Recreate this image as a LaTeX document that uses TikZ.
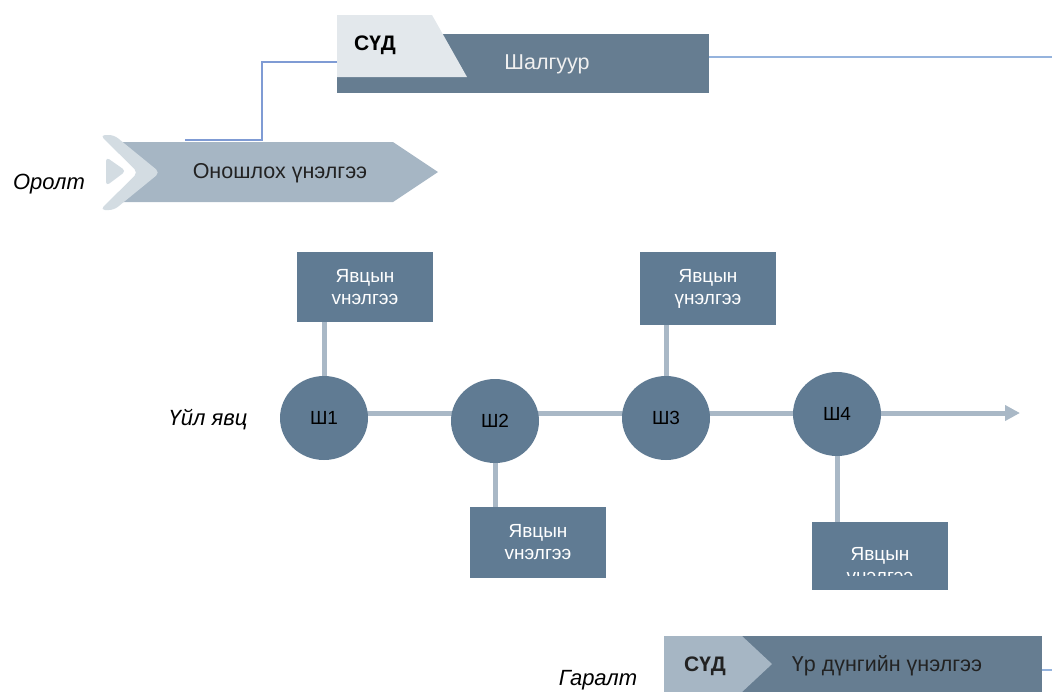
\documentclass[tikz,border=0pt]{standalone}
\usepackage{fontspec}
\setmainfont{Liberation Sans}
\usetikzlibrary{shapes.geometric,arrows.meta}
\definecolor{darkbox}{HTML}{607B93}
\definecolor{critbox}{HTML}{667D91}
\definecolor{lightarrow}{HTML}{A6B6C4}
\definecolor{lighttrap}{HTML}{E3E8EC}
\definecolor{chev}{HTML}{D3DCE2}
\definecolor{conn}{HTML}{A9B8C6}
\definecolor{thinblue}{HTML}{7F9BD4}
\definecolor{thinblue2}{HTML}{95B3DD}
\definecolor{txtdark}{HTML}{222222}
\tikzset{
  fs/.style={font=\fontsize{19}{22}\selectfont},
  fb/.style={font=\fontsize{21.5}{24}\selectfont},
  evalbox/.style={fs, rectangle, fill=darkbox, text=white, minimum width=136pt, align=center, inner sep=0pt},
  stepcirc/.style={fs, ellipse, fill=darkbox, text=black, minimum width=88pt, minimum height=84pt, inner sep=0pt},
  connline/.style={draw=conn, line width=5pt},
  sidelabel/.style={font=\fontsize{22}{24}\selectfont\itshape, text=black},
}
\begin{document}
\begin{tikzpicture}[x=1pt,y=-1pt]
\useasboundingbox (0,0) rectangle (1052,691);

% ---------- top: criterion ----------
\node[rectangle, fill=critbox, minimum width=372pt, minimum height=59pt, inner sep=0pt] (crit) at (523,63.5) {};
\fill[lighttrap] (337,15) -- (432,15) -- (467,77) -- (337,77) -- cycle;
\node[font=\fontsize{21}{24}\selectfont\bfseries, text=black] (sud1) at (375,45) {СҮД};
\node[fb, text=white!94!black] (critt) at (547,64) {Шалгуур};
\coordinate (critR) at (709,57);
\coordinate (rEnd) at (1052,57);
\draw[thinblue2, line width=2pt] (critR) -- (rEnd);
\coordinate (critL) at (337,62);
\coordinate (j1) at (262,140);
\coordinate (j2) at (185,140);
\draw[thinblue, line width=1.3pt] (critL) -| (j1) -- (j2);

% ---------- input: diagnostic ----------
\fill[lightarrow] (120,142) -- (393,142) -- (438,172) -- (393,202) -- (120,202) -- (150,172) -- cycle;
\fill[chev, rounded corners=5pt] (100,135) -- (114,135) -- (160,172.5) -- (114,210) -- (100,210) -- (138,172.5) -- cycle;
\fill[chev, rounded corners=4pt] (106,157) -- (126,171) -- (106,186) -- cycle;
\node[fb, text=txtdark] (diag) at (280,173) {Оношлох үнэлгээ};
\node[sidelabel] (input) at (49,184) {Оролт};

% ---------- process ----------
\node[sidelabel] (proc) at (208,420) {Үйл явц};
\coordinate (lineStart) at (324,413);
\coordinate (lineEnd) at (1020,413);
\draw[connline, -{Triangle[length=15pt,width=15pt]}] (lineStart) -- (lineEnd);

\node[evalbox, minimum height=70pt] (b1) at (365,287) {Явцын\\vнэлгээ};
\node[evalbox, minimum height=71pt] (b2) at (538,542.5) {Явцын\\vнэлгээ};
\node[evalbox, minimum height=73pt] (b3) at (708,288.5) {Явцын\\үнэлгээ};
\node[evalbox, minimum height=68pt] (b4) at (880,556) {};
\begin{scope}
  \clip (812,522) rectangle (948,575);
  \node[fs, text=white, align=center] (t4) at (880,565) {Явцын\\vнэлгээ};
\end{scope}

\node[stepcirc] (c1) at (324,418) {Ш1};
\node[stepcirc] (c2) at (495,421) {Ш2};
\node[stepcirc] (c3) at (666,418) {Ш3};
\node[stepcirc] (c4) at (837,414) {Ш4};

\draw[connline] (c1.north) -- (c1.north |- b1.south);
\draw[connline] (c2.south) -- (c2.south |- b2.north);
\draw[connline] (c3.north) -- (c3.north |- b3.south);
\draw[connline] (c4.south) -- (c4.south |- b4.north);

% ---------- output ----------
\node[rectangle, fill=critbox, minimum width=378pt, minimum height=56pt, inner sep=0pt] (res) at (853,664) {};
\fill[lightarrow] (664,636) -- (742,636) -- (772,664) -- (742,692) -- (664,692) -- cycle;
\node[font=\fontsize{21}{24}\selectfont\bfseries, text=txtdark] (sud2) at (705,666) {СҮД};
\node[fb, text=txtdark] (rest) at (887,666) {Үр дүнгийн үнэлгээ};
\node[sidelabel] (output) at (598,680) {Гаралт};
\coordinate (resR) at (1052,670);
\draw[thinblue2, line width=1.5pt] (res.east |- resR) -- (resR);
\end{tikzpicture}
\end{document}
